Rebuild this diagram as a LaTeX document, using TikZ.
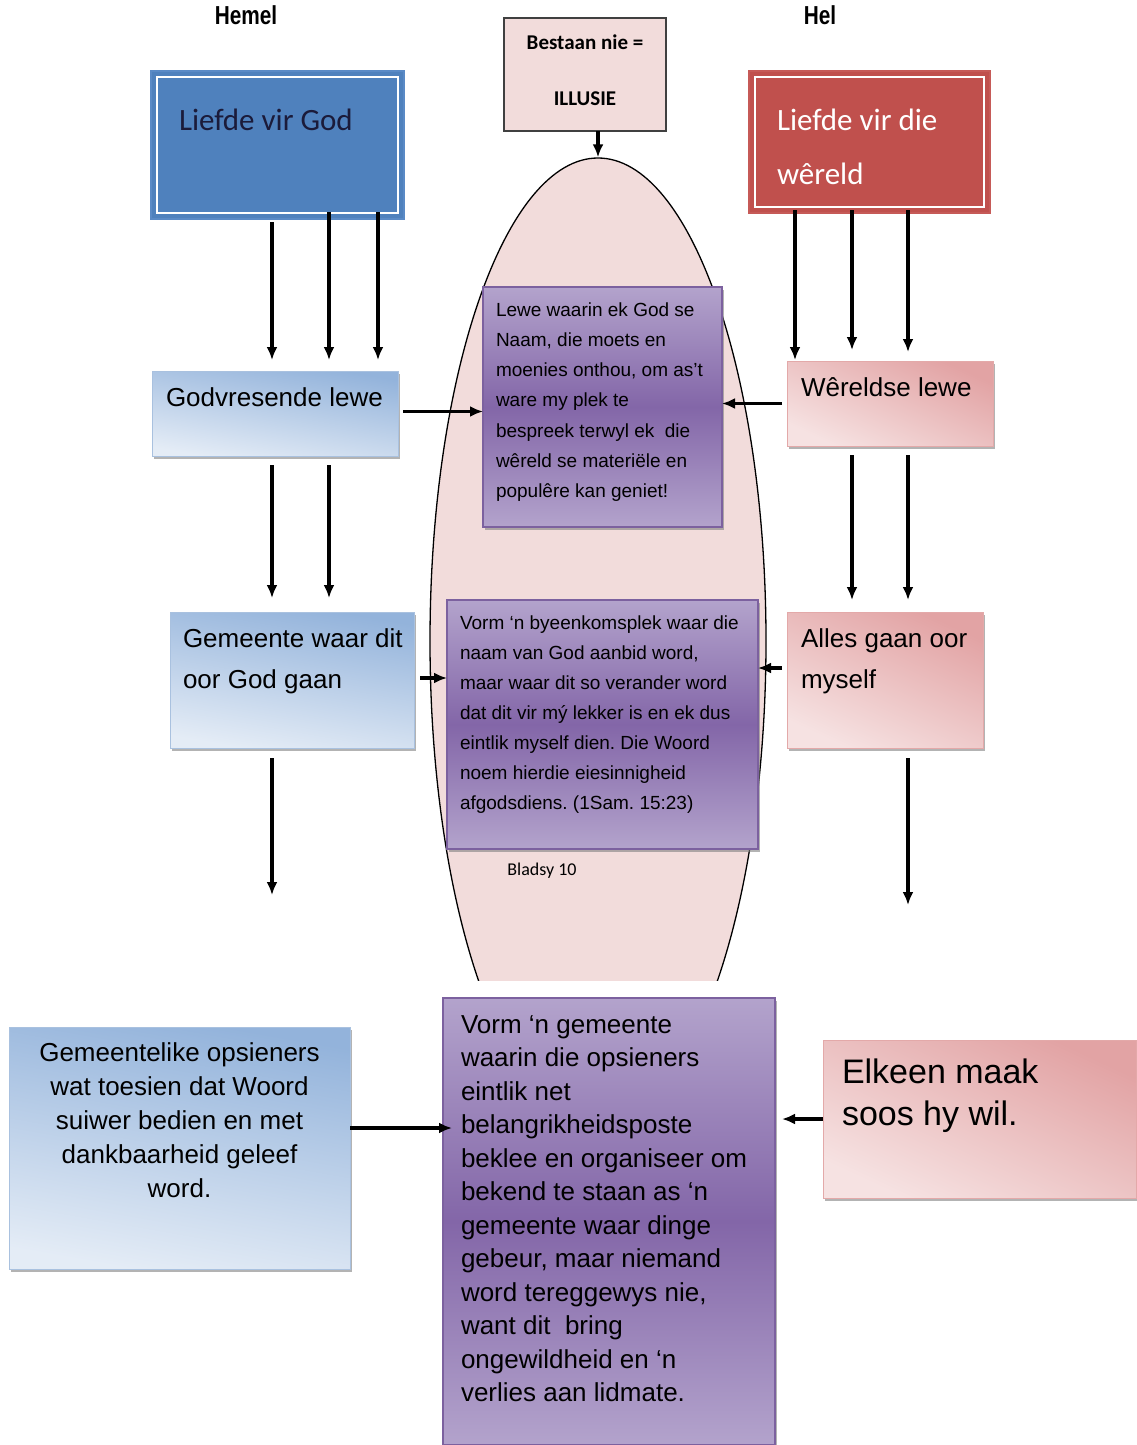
\documentclass[tikz,border=0pt]{standalone}
\usepackage{fontspec}
\setmainfont{Liberation Sans}
\newfontfamily\calib{Carlito}
\newfontfamily\hfont[FakeStretch=0.8]{Liberation Sans}
\usetikzlibrary{arrows.meta,shapes.geometric,shadows,calc}
\definecolor{pinkfill}{HTML}{F2DCDB}
\definecolor{godblue}{HTML}{4F81BD}
\definecolor{godedge}{HTML}{5A8AC6}
\definecolor{worldred}{HTML}{C0504D}
\definecolor{worldedge}{HTML}{C65A57}
\definecolor{blueA}{HTML}{93B3DB}
\definecolor{blueB}{HTML}{E4ECF6}
\definecolor{blueedge}{HTML}{A9C1DF}
\definecolor{redA}{HTML}{E2A3A4}
\definecolor{redB}{HTML}{F6E2E2}
\definecolor{rededge}{HTML}{E3A9A9}
\definecolor{purpL}{HTML}{B3A3CC}
\definecolor{purpD}{HTML}{8366A8}
\definecolor{purpedge}{HTML}{7C619F}
\definecolor{godtext}{HTML}{1B1B3A}
\frenchspacing
\newcommand\boxtext[6]{\parbox[c][#2][t]{#1}{\vspace*{#4}#5\frenchspacing\leftskip=#3\relax\strut #6\par}}
\tikzset{
  base/.style={anchor=north west, inner sep=0pt, outer sep=0pt},
  shad/.style={drop shadow={shadow xshift=1.5pt, shadow yshift=-3pt, fill=black!50, opacity=0.6}},
  bluebox/.style={base, shad, draw=blueedge, line width=1pt, top color=blueA, bottom color=blueB, shading angle=-10},
  redbox/.style={base, shad, draw=rededge, line width=1pt, top color=redA, bottom color=redB, shading angle=-25},
  purpbox/.style={base, shad, draw=purpedge, line width=1.2pt, top color=purpL, bottom color=purpL, middle color=purpD},
  topbox/.style={base, line width=2pt},
  arr/.style={line width=3.4pt, -{Latex[length=13pt,width=11pt]}},
  head/.style={font=\hfont\bfseries\fontsize{26}{28}\selectfont, inner sep=0pt}
}
\begin{document}
\begin{tikzpicture}[x=1pt,y=-1pt]
\useasboundingbox (0,0) rectangle (1136,1445);

% headings
\node[head] (hemel) at (246,15) {Hemel};
\node[head] (hel) at (820,15) {Hel};

% ellipse (clipped at bottom)
\begin{scope}
\clip (0,0) rectangle (1136,980);
\node[ellipse, draw=black, line width=1.3pt, fill=pinkfill, minimum width=336pt, minimum height=966pt, inner sep=0pt] (ell) at (598,641) {};
\end{scope}

% top boxes
\node[topbox, draw=black!75, fill=pinkfill, line width=1.5pt] (best) at (504,18)
  {\boxtext{162pt}{113pt}{0pt plus 1fil}{-7.2pt}{\centering\calib\bfseries\fontsize{21}{56}\selectfont}{Bestaan nie =\\ILLUSIE}};
\node[topbox, draw=godedge, fill=godblue] (god) at (151,71)
  {\boxtext{253pt}{148pt}{28pt}{22pt}{\calib\color{godtext}\fontsize{31}{54}\selectfont}{Liefde vir God}};
\draw[white, line width=2pt] ($(god.north west)+(6,6)$) rectangle ($(god.south east)+(-6,-6)$);
\node[topbox, draw=worldedge, fill=worldred] (world) at (749,71)
  {\boxtext{241pt}{142pt}{28pt}{22pt}{\calib\color{white}\fontsize{31}{54}\selectfont}{Liefde vir die\\wêreld}};
\draw[white, line width=2pt] ($(world.north west)+(6,6)$) rectangle ($(world.south east)+(-6,-6)$);

% second row
\node[bluebox] (godly) at (152,371)
  {\boxtext{246pt}{85pt}{14pt}{13pt}{\fontsize{26}{32}\selectfont}{Godvresende lewe}};
\node[redbox] (worldly) at (787,361)
  {\boxtext{206pt}{85pt}{14pt}{13pt}{\fontsize{26}{32}\selectfont}{Wêreldse lewe}};
\node[purpbox] (p1) at (483,287)
  {\boxtext{239pt}{240pt}{13pt}{7.8pt}{\fontsize{19}{30.3}\selectfont}{Lewe waarin ek God se\\Naam, die moets en\\moenies onthou, om as’t\\ware my plek te\\bespreek terwyl ek\ \ die\\wêreld se materiële en\\populêre kan geniet!}};

% third row
\node[bluebox] (gem) at (170,612)
  {\boxtext{244pt}{136pt}{13pt}{6.5pt}{\fontsize{26}{41}\selectfont}{Gemeente waar dit\\oor God gaan}};
\node[redbox] (alles) at (787,612)
  {\boxtext{196pt}{136pt}{14pt}{6.5pt}{\fontsize{26}{41}\selectfont}{Alles gaan oor\\myself}};
\node[purpbox] (p2) at (447,600)
  {\boxtext{311pt}{249pt}{13pt}{8pt}{\fontsize{19}{30}\selectfont}{Vorm ‘n byeenkomsplek waar die\\naam van God aanbid word,\\maar waar dit so verander word\\dat dit vir mý lekker is en ek dus\\eintlik myself dien. Die Woord\\noem hierdie eiesinnigheid\\afgodsdiens. (1Sam. 15:23)}};
\node[font=\calib\fontsize{18}{20}\selectfont, inner sep=0pt] (page) at (542,871) {Bladsy 10};

% bottom row
\node[bluebox] (bl) at (9,1027)
  {\boxtext{341pt}{242pt}{0pt plus 1fil}{10.2pt}{\centering\fontsize{26}{34}\selectfont}{Gemeentelike opsieners\\wat toesien dat Woord\\suiwer bedien en met\\dankbaarheid geleef\\word.}};
\node[purpbox] (mid) at (443,998)
  {\boxtext{332pt}{447pt}{18pt}{12pt}{\fontsize{26}{33.5}\selectfont}{Vorm ‘n gemeente\\waarin die opsieners\\eintlik net\\belangrikheidsposte\\beklee en organiseer om\\bekend te staan as ‘n\\gemeente waar dinge\\gebeur, maar niemand\\word tereggewys nie,\\want dit\ \ bring\\ongewildheid en ‘n\\verlies aan lidmate.}};
\node[redbox] (br) at (823,1040)
  {\boxtext{313pt}{158pt}{19pt}{13.6pt}{\fontsize{34}{42}\selectfont}{Elkeen maak\\soos hy wil.}};

% free ends
\coordinate (gend) at (272,895);
\coordinate (aend) at (908,905);

% connectors
\draw[arr] (best.south -| ell.north) -- (ell.north);
\draw[arr] ($(god.south west)+(121,3)$) -- ($(godly.north west)+(120,-11)$);
\draw[arr] ($(god.south west)+(178,-7)$) -- ($(godly.north west)+(177,-11)$);
\draw[arr] ($(god.south west)+(227,-7)$) -- ($(godly.north west)+(226,-11)$);
\draw[arr] ($(world.south west)+(46,-3)$) -- ($(worldly.north west)+(8,-1)$);
\draw[arr] ($(world.south west)+(103,-3)$) -- ($(worldly.north west)+(65,-11)$);
\draw[arr] ($(world.south west)+(159,-3)$) -- ($(worldly.north west)+(121,-9)$);
\draw[arr] ($(godly.south west)+(120,9)$) -- ($(gem.north west)+(102,-14)$);
\draw[arr] ($(godly.south west)+(177,9)$) -- ($(gem.north west)+(159,-14)$);
\draw[arr] ($(worldly.south west)+(65,9)$) -- ($(alles.north west)+(65,-12)$);
\draw[arr] ($(worldly.south west)+(121,9)$) -- ($(alles.north west)+(121,-12)$);
\draw[arr] ($(gem.south west)+(102,10)$) -- (gend);
\draw[arr] ($(alles.south west)+(121,10)$) -- (aend);
\draw[arr] ($(godly.east)+(5,-2)$) -- ($(p1.west |- godly.east)+(0,-2)$);
\draw[arr] ($(worldly.west)+(-5,0)$) -- (p1.east |- worldly.west);
\draw[arr] ($(gem.east)+(6,-2)$) -- ($(p2.west |- gem.east)+(0,-2)$);
\draw[arr] ($(alles.west)+(-5,-12)$) -- ($(p2.east |- alles.west)+(0,-12)$);
\draw[arr] ($(bl.east)+(0,-20)$) -- ($(mid.west |- bl.east)+(9,-20)$);
\draw[arr] (br.west) -- ($(mid.east |- br.west)+(7,0)$);
\end{tikzpicture}
\end{document}
